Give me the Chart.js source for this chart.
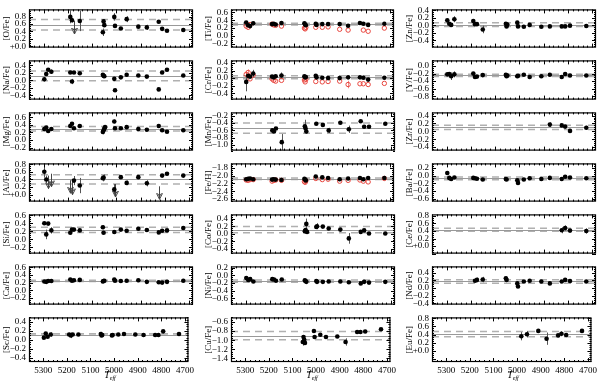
<!DOCTYPE html>
<html>
<head>
<meta charset="utf-8">
<script src="https://cdn.jsdelivr.net/npm/chart.js@4.4.1/dist/chart.umd.min.js"></script>
<style>
  html, body { margin: 0; padding: 0; background: #fff; }
  #wrap { position: relative; width: 600px; height: 383px; overflow: hidden; }
  #wrap canvas { position: absolute; }
</style>
</head>
<body>
<div id="wrap"></div>
<script>
const n = null;

// star temperatures (x positions shared by all panels)
const teff = [5297, 5289, 5281, 5268, 5190, 5183, 5175, 5151, 5056, 5053, 5050, 5047,
              5009, 5006, 4982, 4958, 4910, 4875, 4826, 4812, 4792, 4725];

// abundances, one slot per star
const oFe  = [n,n,n,n, 0.79,0.70,n,0.68, 0.38,0.67,0.57,n, 0.79,0.55,0.48,0.73, 0.53,0.51,0.66,0.47, 0.42,0.44];
const naFe = [0.03,0.17,0.28,0.23, 0.21,-0.03,0.21,0.19, 0.15,0.12,0.11,n, 0.04,-0.26,0.08,0.15, 0.13,0.10,-0.24,0.21, 0.28,0.13];
const mgFe = [0.29,0.33,0.24,0.29, 0.37,0.43,0.31,0.37, 0.21,0.26,0.30,0.34, 0.49,0.31,0.31,0.34, 0.29,0.27,0.37,0.26, 0.22,0.26];
const alFe = [0.60,0.40,n,n, n,n,0.37,0.24, 0.43,0.45,n,n, 0.14,n,0.46,0.31, 0.46,0.30,n,0.50, 0.55,0.50];
const siFe = [0.40,0.12,0.39,0.22, 0.16,0.24,0.24,0.22, 0.30,0.16,n,n, 0.18,n,0.24,0.21, 0.26,0.23,0.17,0.21, 0.22,0.28];
const caFe = [0.23,0.22,0.24,0.24, 0.28,0.25,0.26,0.27, 0.23,0.24,0.25,n, 0.28,0.25,0.24,0.25, 0.26,0.22,0.21,0.20, 0.22,0.25];
const scFe = [0.05,0.14,0.07,0.12, 0.12,0.10,0.12,0.12, 0.13,0.10,0.11,n, 0.10,0.11,0.12,0.13, 0.12,0.11,0.11,0.11, 0.19,0.13];

const tiFe = [0.34,0.27,0.25,0.32, 0.30,0.31,0.29,0.33, 0.32,0.29,0.27,n, 0.31,0.28,0.30,0.30, 0.30,0.26,0.33,0.31, 0.28,0.31];
const tiII = [0.25,0.22,0.29,n, 0.30,0.28,0.27,0.25, 0.20,0.18,0.22,n, 0.22,n,0.22,0.23, 0.17,0.15,n,0.15, 0.12,0.20];
const crFe = [-0.10,0.06,0.04,0.12, 0.04,0.02,0.05,0.07, 0.05,0.02,0.03,n, 0.06,0.02,0.01,0.00, 0.00,0.02,0.02,0.01, -0.04,0.01];
const crII = [0.10,0.15,-0.02,0.08, -0.02,-0.06,-0.08,-0.06, -0.05,-0.10,-0.03,n, -0.09,n,-0.10,-0.09, -0.08,-0.17,-0.15,-0.15, -0.17,-0.14];
const mnFe = [n,n,n,n, -0.60,-0.63,-0.55,-0.92, -0.49,-0.55,-0.63,n, -0.42,n,-0.45,-0.60, -0.39,-0.57,-0.35,-0.50, -0.50,-0.42];
const feH  = [-2.09,-2.08,-2.07,-2.09, -2.10,-2.09,-2.10,-2.11, -2.08,-2.10,-2.12,n, -2.02,n,-2.04,-2.06, -2.09,-2.07,-2.06,-2.09, -2.06,-2.06];
const feII = [-2.11,-2.12,-2.10,-2.10, -2.14,-2.12,-2.11,-2.12, -2.15,-2.17,-2.13,n, -2.07,n,-2.10,-2.09, -2.14,-2.12,-2.11,-2.14, -2.16,-2.07];
const coFe = [n,n,n,n, n,n,n,n, 0.07,0.10,0.26,0.05, 0.18,0.20,0.19,0.14, 0.11,-0.12,0.05,0.09, 0.01,0.01];
const niFe = [-0.07,-0.12,-0.10,-0.16, -0.10,-0.11,-0.14,-0.11, -0.13,-0.15,-0.17,n, -0.15,-0.17,-0.17,-0.16, -0.16,-0.18,-0.21,-0.17, -0.19,-0.17];
const cuFe = [n,n,n,n, n,n,n,n, -1.04,-0.93,-0.99,-1.06, -0.80,-0.93,-0.88,-0.93, -0.92,-1.04,-0.82,-0.82, -0.81,-0.76];

const znFe = [0.13,0.04,0.01,0.16, 0.11,0.03,0.03,-0.11, 0.04,-0.03,0.02,n, 0.07,-0.03,-0.04,0.01, -0.04,-0.03,-0.03,-0.03, -0.01,-0.02];
const yFe  = [-0.22,-0.21,-0.27,-0.22, -0.20,-0.29,-0.28,-0.24, -0.23,-0.27,-0.25,n, -0.27,-0.26,-0.23,-0.29, -0.27,-0.23,-0.29,-0.21, -0.25,-0.25];
const zrFe = [n,n,n,n, n,n,n,n, n,n,n,n, n,n,n,n, n,0.17,0.15,0.12, 0.01,0.09];
const baFe = [0.07,-0.06,-0.09,-0.05, -0.06,-0.07,-0.08,-0.10, -0.09,-0.10,n,n, -0.12,-0.19,-0.10,-0.07, -0.09,-0.06,-0.09,-0.03, -0.05,-0.07];
const ceFe = [n,n,n,n, n,n,n,n, n,n,n,n, n,n,n,n, n,n,0.42,0.48, 0.41,0.40];
const ndFe = [n,n,n,n, n,0.19,0.21,0.22, 0.25,0.21,n,n, 0.12,0.04,0.17,0.19, 0.17,0.12,0.17,0.21, 0.18,0.17];
const euFe = [n,n,n,n, n,n,n,n, n,n,n,n, n,n,0.36,0.41, 0.49,0.30,0.38,0.42, 0.39,0.49];

// visible error bars: [star slot, error]
const oErr  = [[4,0.17],[5,0.06],[7,0.27],[8,0.10],[9,0.06],[12,0.10],[15,0.08],[17,0.07],[18,0.04]];
const naErr = [[0,0.06],[3,0.06],[5,0.07],[13,0.05],[15,0.04],[18,0.04]];
const mgErr = [[1,0.04],[4,0.05],[8,0.06],[12,0.05]];
const alErr = [[0,0.15],[1,0.10],[6,0.12],[7,0.20],[8,0.08],[9,0.08],[12,0.14],[15,0.06],[17,0.08]];
const siErr = [[1,0.12],[3,0.08],[8,0.05]];
const caErr = [[12,0.04]];
const scErr = [[3,0.05],[5,0.06],[8,0.05]];
const tiErr = [[3,0.04],[5,0.04]];
const crErr = [[0,0.25],[3,0.10],[7,0.08],[12,0.05]];
const crIIErr = [[0,0.08],[1,0.08],[17,0.10]];
const mnErr = [[7,0.22],[8,0.18],[10,0.06],[14,0.05],[15,0.07],[17,0.10]];
const coErr = [[8,0.05],[10,0.14],[13,0.08],[17,0.14]];
const niErr = [[0,0.03]];
const cuErr = [[8,0.08],[12,0.03],[17,0.08]];
const znErr = [[3,0.08],[7,0.10]];
const yErr  = [[2,0.10],[3,0.08]];
const zrErr = [[17,0.06],[21,0.05]];
const baErr = [[0,0.05]];
const ceErr = [[18,0.08],[19,0.07],[21,0.07]];
const ndErr = [[5,0.04],[6,0.06],[7,0.07],[8,0.05]];
const euErr = [[14,0.10],[15,0.08],[17,0.15],[19,0.06]];

// upper limits: [star slot, limit]
const oLim  = [[6,0.68]];
const alLim = [[2,0.50],[3,0.55],[4,0.38],[5,0.34],[13,0.28],[18,0.22]];

// sample mean and dispersion: [mean, sigma]
const oRef = [0.58,0.14], naRef = [0.12,0.13], mgRef = [0.30,0.06], alRef = [0.40,0.12];
const siRef = [0.235,0.065], caRef = [0.245,0.015], scRef = [0.12,0.015];
const tiRef = [0.30,0.02], crRef = [0.02,0.04], mnRef = [-0.54,0.14], feRef = [-2.08,0.02];
const coRef = [0.11,0.085], niRef = [-0.15,0.03], cuRef = [-0.90,0.09];
const znRef = [0.02,0.05], yRef = [-0.25,0.03], zrRef = [0.10,0.055], baRef = [-0.07,0.035];
const ceRef = [0.43,0.04], ndRef = [0.17,0.045], euRef = [0.41,0.065];

// y ranges
const oAx = [-0.03,0.99], naAx = [-0.51,0.53], mgAx = [-0.28,0.73], alAx = [-0.18,0.82];
const siAx = [-0.36,0.62], caAx = [-0.37,0.62], scAx = [-0.49,0.50];
const tiAx = [-0.29,0.67], crAx = [-0.57,0.47], mnAx = [-1.15,-0.11], feAx = [-2.67,-1.68];
const coAx = [-0.52,0.51], niAx = [-0.76,0.23], cuAx = [-1.48,-0.50];
const znAx = [-0.59,0.42], yAx = [-0.89,0.15], zrAx = [-0.49,0.48], baAx = [-0.68,0.32];
const ceAx = [-0.20,0.84], ndAx = [-0.43,0.56], euAx = [-0.27,0.82];

const teffRange = [4685, 5360];

const panels = [
  ['[O/Fe]', oFe, oErr, oRef, oAx, {lim: oLim, plus0: true}],
  ['[Na/Fe]', naFe, naErr, naRef, naAx],
  ['[Mg/Fe]', mgFe, mgErr, mgRef, mgAx],
  ['[Al/Fe]', alFe, alErr, alRef, alAx, {lim: alLim, plus0: true}],
  ['[Si/Fe]', siFe, siErr, siRef, siAx],
  ['[Ca/Fe]', caFe, caErr, caRef, caAx],
  ['[Sc/Fe]', scFe, scErr, scRef, scAx],
  ['[Ti/Fe]', tiFe, tiErr, tiRef, tiAx, {red: tiII}],
  ['[Cr/Fe]', crFe, crErr, crRef, crAx, {red: crII, redErr: crIIErr}],
  ['[Mn/Fe]', mnFe, mnErr, mnRef, mnAx],
  ['[Fe/H]', feH, [], feRef, feAx, {red: feII}],
  ['[Co/Fe]', coFe, coErr, coRef, coAx],
  ['[Ni/Fe]', niFe, niErr, niRef, niAx],
  ['[Cu/Fe]', cuFe, cuErr, cuRef, cuAx],
  ['[Zn/Fe]', znFe, znErr, znRef, znAx],
  ['[Y/Fe]', yFe, yErr, yRef, yAx],
  ['[Zr/Fe]', zrFe, zrErr, zrRef, zrAx],
  ['[Ba/Fe]', baFe, baErr, baRef, baAx],
  ['[Ce/Fe]', ceFe, ceErr, ceRef, ceAx, {plus0: true}],
  ['[Nd/Fe]', ndFe, ndErr, ndRef, ndAx],
  ['[Eu/Fe]', euFe, euErr, euRef, euAx, {plus0: true}]
];

Chart.defaults.font.family = "'Liberation Serif', 'DejaVu Serif', serif";
Chart.defaults.color = '#000';

const toPoints = vals => vals.map((v, i) => ({x: teff[i], y: v})).filter(p => p.y !== null);

function hline(ctx, a, y) {
  ctx.beginPath(); ctx.moveTo(a.left, y); ctx.lineTo(a.right, y); ctx.stroke();
}

const decor = {
  id: 'decor',
  beforeDatasetsDraw(chart) {
    const p = chart.options.plugins.decor;
    const {ctx, chartArea: a} = chart;
    const x = chart.scales.x, y = chart.scales.y;
    ctx.save();
    ctx.beginPath(); ctx.rect(a.left, a.top, a.width, a.height); ctx.clip();

    // mean and +-sigma lines
    ctx.setLineDash([7, 5]);
    ctx.strokeStyle = '#b0b0b0';
    ctx.lineWidth = 1.5;
    hline(ctx, a, y.getPixelForValue(p.ref[0] + p.ref[1]));
    hline(ctx, a, y.getPixelForValue(p.ref[0] - p.ref[1]));
    ctx.setLineDash([]);
    ctx.strokeStyle = '#999';
    ctx.lineWidth = 1;
    hline(ctx, a, Math.round(y.getPixelForValue(p.ref[0])) + 0.5);

    // error bars
    const bars = (list, vals, color) => {
      ctx.strokeStyle = color;
      ctx.lineWidth = 1;
      for (const [i, e] of list) {
        if (vals[i] === null) continue;
        const px = Math.round(x.getPixelForValue(teff[i])) + 0.5;
        ctx.beginPath();
        ctx.moveTo(px, y.getPixelForValue(vals[i] + e));
        ctx.lineTo(px, y.getPixelForValue(vals[i] - e));
        ctx.stroke();
      }
    };
    bars(p.err, p.vals, '#555');
    if (p.red && p.redErr) bars(p.redErr, p.red, '#f08a85');

    // upper limits
    ctx.strokeStyle = '#444';
    ctx.lineWidth = 1;
    for (const [i, v] of (p.lim || [])) {
      const px = Math.round(x.getPixelForValue(teff[i])) + 0.5;
      const py = y.getPixelForValue(v);
      const tip = py + 13;
      ctx.beginPath();
      ctx.moveTo(px, py); ctx.lineTo(px, tip);
      ctx.moveTo(px - 3, tip - 6); ctx.lineTo(px, tip); ctx.lineTo(px + 3, tip - 6);
      ctx.moveTo(px - 2, tip - 6); ctx.lineTo(px, tip - 3); ctx.lineTo(px + 2, tip - 6);
      ctx.stroke();
    }
    ctx.restore();
  },
  afterDraw(chart) {
    const p = chart.options.plugins.decor;
    const {ctx, chartArea: a} = chart;
    const x = chart.scales.x, y = chart.scales.y;
    ctx.save();
    ctx.strokeStyle = '#000';
    ctx.lineWidth = 1;
    // tick marks, inward on all four sides
    ctx.beginPath();
    const k0 = Math.ceil(y.min / 0.05 - 1e-6), k1 = Math.floor(y.max / 0.05 + 1e-6);
    for (let k = k0; k <= k1; k++) {
      const len = (k % 4 === 0) ? 4 : 2;
      const py = Math.round(y.getPixelForValue(k * 0.05)) + 0.5;
      ctx.moveTo(a.left, py); ctx.lineTo(a.left + len, py);
      ctx.moveTo(a.right, py); ctx.lineTo(a.right - len, py);
    }
    for (let t = Math.ceil(teffRange[0] / 20) * 20; t <= teffRange[1]; t += 20) {
      const len = (t % 100 === 0) ? 4 : 2;
      const px = Math.round(x.getPixelForValue(t)) + 0.5;
      ctx.moveTo(px, a.bottom); ctx.lineTo(px, a.bottom - len);
      ctx.moveTo(px, a.top); ctx.lineTo(px, a.top + len);
    }
    ctx.stroke();
    // frame
    ctx.lineWidth = 1.2;
    ctx.strokeRect(a.left + 0.5, a.top + 0.5, a.width - 1, a.height - 1);

    if (p.last) {
      const cx = (a.left + a.right) / 2;
      ctx.fillStyle = '#000';
      ctx.font = "italic 10px 'Liberation Serif'";
      ctx.textAlign = 'right';
      ctx.textBaseline = 'alphabetic';
      ctx.fillText('T', cx + 1, a.bottom + 16);
      ctx.font = "italic 6px 'Liberation Serif'";
      ctx.textAlign = 'left';
      ctx.fillText('eff', cx + 1, a.bottom + 18);
    }
    ctx.restore();
  }
};

// y ticks every 0.2 inside the range
function yTicks(s) {
  const out = [];
  for (let k = Math.ceil(s.min / 0.2 - 1e-6); k * 0.2 <= s.max + 1e-6; k++) {
    out.push({ value: Math.round(k * 2) / 10 });
  }
  s.ticks = out;
}

const colLeft = [29, 231, 432];
const rowTop = [3, 54, 106, 157, 208, 260, 311, 362];
const plotW = 164, axisW = 29, pad = 2, fullH = 383;
const wrap = document.getElementById('wrap');

panels.forEach((pd, idx) => {
  const [label, vals, err, ref, ax, extra] = pd;
  const opt = extra || {};
  const col = Math.floor(idx / 7), row = idx % 7;
  const last = row === 6;
  const top = rowTop[row] - pad;
  const h = last ? fullH - top : rowTop[row + 1] - rowTop[row] + 2 * pad;
  const w = axisW + plotW + 4;

  const canvas = document.createElement('canvas');
  canvas.width = w; canvas.height = h;
  canvas.style.left = (colLeft[col] - axisW) + 'px';
  canvas.style.top = top + 'px';
  wrap.appendChild(canvas);

  const datasets = [{
    data: toPoints(vals),
    pointRadius: 2.3,
    pointBackgroundColor: '#000',
    pointBorderWidth: 0
  }];
  if (opt.red) {
    datasets.push({
      data: toPoints(opt.red),
      pointRadius: 2.2,
      pointBackgroundColor: 'rgba(0,0,0,0)',
      pointBorderColor: '#e8463f',
      pointBorderWidth: 1
    });
  }

  const xScale = {
    type: 'linear',
    reverse: true,
    min: teffRange[0],
    max: teffRange[1],
    display: last,
    grid: { display: false, drawTicks: false },
    border: { display: false },
    ticks: {
      stepSize: 100,
      includeBounds: false,
      autoSkip: false,
      maxRotation: 0,
      padding: 3,
      font: { size: 9 },
      callback: v => String(v)
    }
  };
  if (last) xScale.afterFit = s => { s.height = fullH - rowTop[7]; };

  new Chart(canvas, {
    type: 'scatter',
    data: { datasets: datasets },
    options: {
      responsive: false,
      maintainAspectRatio: false,
      animation: false,
      events: [],
      layout: { padding: { top: pad, right: 4, bottom: last ? 0 : pad, left: 0 } },
      plugins: {
        legend: { display: false },
        tooltip: { enabled: false },
        decor: { vals: vals, err: err, ref: ref, lim: opt.lim, red: opt.red, redErr: opt.redErr, last: last }
      },
      scales: {
        x: xScale,
        y: {
          min: ax[0],
          max: ax[1],
          afterBuildTicks: yTicks,
          afterFit: s => { s.width = axisW; },
          grid: { display: false, drawTicks: false },
          border: { display: false },
          title: { display: true, text: label, font: { size: 9 }, padding: { top: 1, bottom: 0 } },
          ticks: {
            autoSkip: false,
            padding: 3,
            font: { size: 9 },
            callback: v => {
              const r = Math.round(v * 10) / 10;
              if (Math.abs(r) < 1e-9) return opt.plus0 ? '+0.0' : '0.0';
              if (opt.plus0 && r < 0) return '';
              return r.toFixed(1).replace('-', '\u2212');
            }
          }
        }
      }
    },
    plugins: [decor]
  });
});
</script>
</body>
</html>
